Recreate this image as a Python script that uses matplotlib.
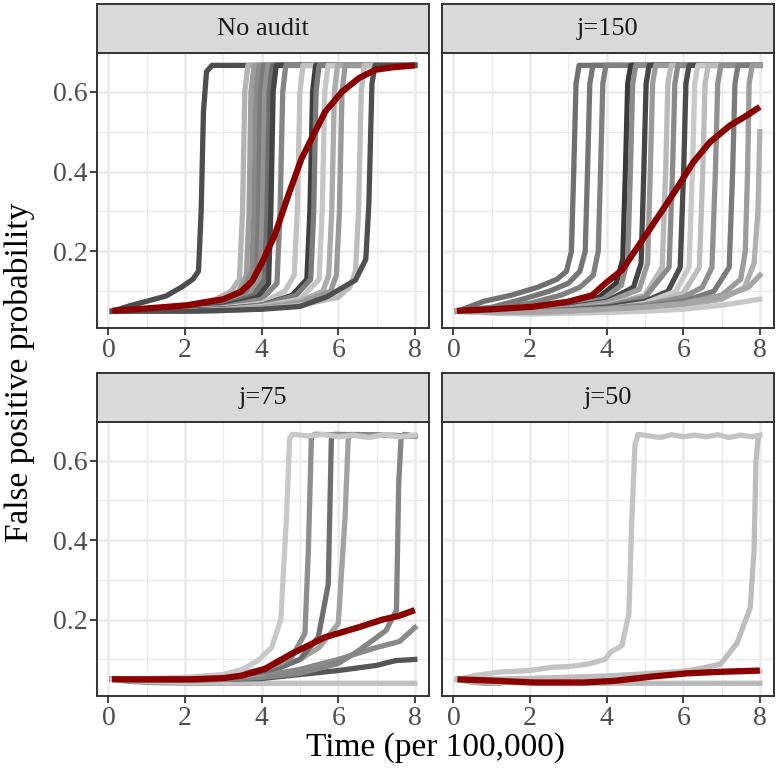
import numpy as np
import matplotlib
matplotlib.use("Agg")
from matplotlib import pyplot as plt

# facet titles
panels = ['No audit', 'j=150', 'j=75', 'j=50']

# ---- No audit: individual runs (x, y) ----
no_audit_runs = [
    ([0.1, 0.6, 1.0, 1.5, 1.9, 2.2, 2.35, 2.42, 2.48, 2.56, 2.7, 8.0],
     [0.05, 0.065, 0.075, 0.088, 0.11, 0.13, 0.15, 0.3, 0.55, 0.65, 0.666, 0.666]),
    ([0.1, 1.0, 2.0, 2.8, 3.2, 3.42, 3.5, 3.56, 3.64, 8.0],
     [0.05, 0.055, 0.065, 0.08, 0.1, 0.13, 0.3, 0.6, 0.666, 0.666]),
    ([0.1, 1.0, 2.0, 3.0, 3.4, 3.6, 3.67, 3.72, 3.8, 8.0],
     [0.05, 0.052, 0.06, 0.075, 0.1, 0.14, 0.3, 0.6, 0.666, 0.666]),
    ([0.1, 1.0, 2.0, 3.0, 3.5, 3.74, 3.8, 3.85, 3.93, 8.0],
     [0.05, 0.053, 0.06, 0.08, 0.1, 0.15, 0.3, 0.6, 0.666, 0.666]),
    ([0.1, 1.0, 2.0, 3.0, 3.6, 3.86, 3.92, 3.97, 4.05, 8.0],
     [0.05, 0.052, 0.058, 0.07, 0.1, 0.14, 0.3, 0.6, 0.666, 0.666]),
    ([0.1, 1.0, 2.0, 3.0, 3.7, 3.96, 4.02, 4.08, 4.16, 8.0],
     [0.05, 0.05, 0.055, 0.068, 0.09, 0.13, 0.3, 0.6, 0.666, 0.666]),
    ([0.1, 1.0, 2.0, 3.0, 3.8, 4.08, 4.14, 4.2, 4.28, 8.0],
     [0.05, 0.05, 0.055, 0.065, 0.09, 0.13, 0.3, 0.6, 0.666, 0.666]),
    ([0.1, 1.0, 2.0, 3.0, 3.9, 4.18, 4.24, 4.3, 4.38, 8.0],
     [0.05, 0.05, 0.055, 0.062, 0.085, 0.12, 0.3, 0.6, 0.666, 0.666]),
    ([0.1, 1.0, 2.0, 3.0, 4.0, 4.4, 4.48, 4.55, 4.63, 8.0],
     [0.05, 0.05, 0.053, 0.06, 0.08, 0.12, 0.3, 0.6, 0.666, 0.666]),
    ([0.1, 1.0, 2.0, 3.0, 4.0, 4.6, 4.85, 4.93, 5.0, 5.08, 8.0],
     [0.05, 0.05, 0.052, 0.058, 0.07, 0.1, 0.14, 0.3, 0.6, 0.666, 0.666]),
    ([0.1, 1.0, 2.0, 3.0, 4.0, 4.8, 5.18, 5.26, 5.33, 5.41, 8.0],
     [0.05, 0.05, 0.052, 0.056, 0.065, 0.09, 0.13, 0.3, 0.6, 0.666, 0.666]),
    ([0.1, 1.0, 2.0, 3.0, 4.0, 4.9, 5.28, 5.36, 5.42, 5.5, 8.0],
     [0.05, 0.05, 0.05, 0.055, 0.065, 0.09, 0.13, 0.3, 0.6, 0.666, 0.666]),
    ([0.1, 1.0, 2.0, 3.0, 4.0, 5.0, 5.5, 5.58, 5.65, 5.73, 8.0],
     [0.05, 0.05, 0.05, 0.054, 0.062, 0.08, 0.13, 0.3, 0.6, 0.666, 0.666]),
    ([0.1, 1.0, 2.0, 3.0, 4.0, 5.0, 5.6, 5.75, 5.83, 5.9, 5.98, 8.0],
     [0.05, 0.05, 0.05, 0.053, 0.06, 0.075, 0.1, 0.14, 0.3, 0.6, 0.666, 0.666]),
    ([0.1, 1.0, 2.0, 3.0, 4.0, 5.0, 5.8, 5.95, 6.03, 6.1, 6.18, 8.0],
     [0.05, 0.05, 0.05, 0.052, 0.058, 0.07, 0.1, 0.14, 0.3, 0.6, 0.666, 0.666]),
    ([0.1, 1.0, 2.0, 3.0, 4.0, 5.0, 6.0, 6.3, 6.45, 6.53, 6.6, 6.68, 8.0],
     [0.05, 0.05, 0.05, 0.052, 0.056, 0.065, 0.085, 0.11, 0.15, 0.3, 0.6, 0.666, 0.666]),
    ([0.1, 1.0, 2.0, 3.0, 4.0, 5.0, 5.7, 6.45, 6.72, 6.8, 6.88, 6.96, 8.0],
     [0.05, 0.05, 0.05, 0.052, 0.055, 0.062, 0.086, 0.128, 0.18, 0.32, 0.62, 0.666, 0.666]),
]
no_audit_greys = ['#4d4d4d', '#b3b3b3', '#9e9e9e', '#8a8a8a', '#7a7a7a', '#939393',
                  '#6e6e6e', '#444444', '#858585', '#c2c2c2', '#3e3e3e', '#7c7c7c',
                  '#c6c6c6', '#ababab', '#999999', '#bdbdbd', '#4f4f4f']
no_audit_mean_x = [0.1, 1.0, 2.06, 3.0, 3.46, 3.75, 4.0, 4.34, 4.69, 5.04, 5.39, 5.66,
                   6.1, 6.54, 6.97, 7.41, 8.0]
no_audit_mean_y = [0.051, 0.057, 0.065, 0.08, 0.099, 0.125, 0.17, 0.24, 0.339, 0.432, 0.499, 0.55,
                   0.6, 0.634, 0.655, 0.661, 0.666]

# ---- j=150 ----
j150_runs = [
    ([0.1, 0.8, 1.5, 2.2, 2.7, 2.95, 3.08, 3.14, 3.2, 3.28, 8.0],
     [0.05, 0.075, 0.09, 0.11, 0.13, 0.15, 0.2, 0.4, 0.62, 0.666, 0.666]),
    ([0.1, 1.0, 1.8, 2.5, 3.0, 3.3, 3.44, 3.5, 3.56, 3.64, 8.0],
     [0.05, 0.06, 0.08, 0.1, 0.12, 0.15, 0.2, 0.4, 0.62, 0.666, 0.666]),
    ([0.1, 1.0, 2.0, 2.8, 3.3, 3.65, 3.78, 3.84, 3.9, 3.98, 8.0],
     [0.05, 0.058, 0.07, 0.09, 0.11, 0.14, 0.2, 0.4, 0.62, 0.666, 0.666]),
    ([0.1, 1.0, 2.0, 3.0, 3.8, 4.25, 4.42, 4.49, 4.55, 4.63, 8.0],
     [0.05, 0.05, 0.055, 0.065, 0.085, 0.12, 0.18, 0.4, 0.62, 0.666, 0.666]),
    ([0.1, 1.0, 2.0, 3.0, 3.9, 4.38, 4.55, 4.62, 4.68, 4.76, 8.0],
     [0.05, 0.05, 0.055, 0.062, 0.08, 0.115, 0.18, 0.4, 0.62, 0.666, 0.666]),
    ([0.1, 1.0, 2.0, 3.0, 4.0, 4.7, 4.9, 4.97, 5.03, 5.11, 8.0],
     [0.05, 0.05, 0.052, 0.06, 0.075, 0.11, 0.17, 0.4, 0.62, 0.666, 0.666]),
    ([0.1, 1.0, 2.0, 3.0, 4.0, 4.85, 5.07, 5.14, 5.2, 5.28, 8.0],
     [0.05, 0.05, 0.052, 0.058, 0.072, 0.105, 0.17, 0.4, 0.62, 0.666, 0.666]),
    ([0.1, 1.0, 2.0, 3.0, 4.0, 5.0, 5.45, 5.54, 5.6, 5.68, 8.0],
     [0.05, 0.048, 0.05, 0.055, 0.065, 0.09, 0.16, 0.4, 0.62, 0.666, 0.666]),
    ([0.1, 1.0, 2.0, 3.0, 4.0, 5.0, 5.63, 5.72, 5.78, 5.86, 8.0],
     [0.05, 0.05, 0.05, 0.055, 0.063, 0.085, 0.16, 0.4, 0.62, 0.666, 0.666]),
    ([0.1, 1.0, 2.0, 3.0, 4.0, 5.0, 5.6, 5.92, 6.01, 6.07, 6.15, 8.0],
     [0.05, 0.05, 0.05, 0.053, 0.06, 0.075, 0.1, 0.16, 0.4, 0.62, 0.666, 0.666]),
    ([0.1, 1.0, 2.0, 3.0, 4.0, 5.0, 5.8, 6.15, 6.24, 6.3, 6.38, 8.0],
     [0.05, 0.047, 0.047, 0.05, 0.055, 0.07, 0.1, 0.16, 0.4, 0.62, 0.666, 0.666]),
    ([0.1, 1.0, 2.0, 3.0, 4.0, 5.0, 6.0, 6.42, 6.51, 6.57, 6.65, 8.0],
     [0.05, 0.047, 0.047, 0.05, 0.055, 0.065, 0.095, 0.16, 0.4, 0.62, 0.666, 0.666]),
    ([0.1, 1.0, 2.0, 3.0, 4.0, 5.0, 6.0, 6.5, 6.75, 6.84, 6.9, 6.98, 8.0],
     [0.05, 0.05, 0.05, 0.052, 0.057, 0.066, 0.085, 0.11, 0.16, 0.4, 0.62, 0.666, 0.666]),
    ([0.1, 1.0, 2.0, 3.0, 4.0, 5.0, 6.0, 6.8, 7.2, 7.29, 7.35, 7.43, 8.0],
     [0.05, 0.05, 0.05, 0.05, 0.055, 0.062, 0.075, 0.1, 0.16, 0.4, 0.62, 0.666, 0.666]),
    ([0.1, 1.0, 2.0, 3.0, 4.0, 5.0, 6.0, 7.0, 7.5, 7.62, 7.68, 7.72, 7.8, 8.0],
     [0.05, 0.048, 0.048, 0.05, 0.053, 0.06, 0.07, 0.09, 0.13, 0.2, 0.4, 0.62, 0.666, 0.666]),
    ([0.1, 1.0, 2.0, 3.0, 4.0, 5.0, 6.0, 7.0, 7.6, 7.85, 7.95, 8.0],
     [0.05, 0.047, 0.046, 0.048, 0.05, 0.055, 0.065, 0.08, 0.11, 0.17, 0.3, 0.5]),
    ([0.1, 1.0, 2.0, 3.0, 4.0, 5.0, 6.0, 7.0, 8.0],
     [0.05, 0.045, 0.043, 0.045, 0.047, 0.05, 0.055, 0.065, 0.08]),
    ([0.1, 1.0, 2.0, 3.0, 4.0, 5.0, 6.0, 7.0, 7.7, 8.0],
     [0.05, 0.048, 0.047, 0.05, 0.055, 0.06, 0.068, 0.085, 0.11, 0.14]),
]
j150_greys = ['#707070', '#757575', '#7f7f7f', '#3a3a3a', '#8c8c8c', '#464646',
              '#9b9b9b', '#b9b9b9', '#8a8a8a', '#4b4b4b', '#c9c9c9', '#bcbcbc',
              '#909090', '#7b7b7b', '#9c9c9c', '#b0b0b0', '#c8c8c8', '#a5a5a5']
j150_mean_x = [0.09, 1.0, 2.04, 3.0, 3.62, 3.97, 4.41, 4.76, 5.12, 5.47, 5.82, 6.26, 6.7, 7.23, 7.67, 8.0]
j150_mean_y = [0.051, 0.055, 0.061, 0.074, 0.09, 0.12, 0.154, 0.204, 0.255, 0.305, 0.356, 0.423, 0.474, 0.516, 0.541, 0.562]

# ---- j=75 ----
j75_runs = [
    ([0.1, 0.5, 1.0, 2.0, 3.0, 4.0],
     [0.05, 0.045, 0.042, 0.04, 0.04, 0.04]),
    ([0.1, 1.0, 2.0, 3.0, 4.0, 5.0, 6.0, 7.0, 8.0],
     [0.05, 0.045, 0.042, 0.041, 0.04, 0.04, 0.04, 0.04, 0.04]),
    ([0.1, 1.0, 2.0, 3.0, 4.0, 5.0, 6.0, 7.0, 7.5, 8.0],
     [0.05, 0.048, 0.048, 0.05, 0.052, 0.062, 0.072, 0.085, 0.097, 0.1]),
    ([0.1, 1.0, 2.0, 3.0, 4.0, 5.0, 6.0, 7.0, 7.6, 8.0],
     [0.05, 0.05, 0.05, 0.05, 0.058, 0.075, 0.1, 0.13, 0.145, 0.18]),
    ([0.1, 1.0, 2.0, 3.0, 4.0, 5.0, 6.0, 6.5, 7.0, 7.25, 7.52, 7.58, 7.64, 7.72, 8.0],
     [0.05, 0.048, 0.048, 0.05, 0.055, 0.065, 0.09, 0.12, 0.155, 0.173, 0.224, 0.545, 0.655, 0.666, 0.662]),
    ([0.1, 1.0, 2.0, 3.0, 4.0, 5.0, 5.5, 6.0, 6.18, 6.26, 6.34, 8.0],
     [0.05, 0.05, 0.05, 0.052, 0.065, 0.1, 0.13, 0.19, 0.46, 0.655, 0.666, 0.662]),
    ([0.1, 1.0, 2.0, 3.0, 4.0, 4.5, 5.0, 5.48, 5.74, 5.82, 5.9, 8.0],
     [0.05, 0.05, 0.05, 0.053, 0.068, 0.08, 0.1, 0.156, 0.29, 0.655, 0.666, 0.662]),
    ([0.1, 1.0, 2.0, 3.0, 4.0, 4.5, 4.78, 5.13, 5.22, 5.3, 5.38, 8.0],
     [0.05, 0.05, 0.05, 0.055, 0.075, 0.09, 0.105, 0.165, 0.376, 0.66, 0.666, 0.662]),
    ([0.1, 1.0, 2.0, 3.0, 3.5, 3.9, 4.26, 4.5, 4.65, 4.73, 4.8, 5.2, 5.6, 6.0, 6.4, 6.8, 7.2, 7.6, 8.0],
     [0.05, 0.052, 0.055, 0.062, 0.075, 0.097, 0.13, 0.2, 0.46, 0.655, 0.666, 0.662, 0.666, 0.66, 0.664, 0.658, 0.665, 0.66, 0.664]),
]
j75_greys = ['#9a9a9a', '#c0c0c0', '#555555', '#8a8a8a', '#858585', '#a2a2a2',
             '#6f6f6f', '#8e8e8e', '#c8c8c8']
j75_mean_x = [0.09, 1.0, 2.15, 3.0, 3.47, 4.08, 4.78, 5.66, 6.54, 7.15, 7.6, 8.0]
j75_mean_y = [0.05, 0.05, 0.05, 0.053, 0.059, 0.076, 0.114, 0.156, 0.181, 0.2, 0.21, 0.224]

# ---- j=50 ----
j50_runs = [
    ([0.1, 0.4, 0.8, 1.2],
     [0.05, 0.044, 0.04, 0.04]),
    ([0.1, 0.5, 1.0, 2.0, 3.0, 4.0, 5.0, 6.0, 7.0, 8.0],
     [0.05, 0.045, 0.042, 0.041, 0.04, 0.04, 0.04, 0.04, 0.04, 0.04]),
    ([0.1, 1.0, 2.0, 3.0, 4.0, 5.0, 6.0, 7.0, 8.0],
     [0.05, 0.05, 0.052, 0.055, 0.058, 0.062, 0.066, 0.068, 0.07]),
    ([0.1, 1.0, 2.0, 3.0, 4.0, 5.0, 6.0, 6.5, 6.97, 7.4, 7.75, 7.85, 7.9, 7.96],
     [0.05, 0.05, 0.052, 0.055, 0.058, 0.064, 0.07, 0.078, 0.088, 0.14, 0.23, 0.376, 0.6, 0.66]),
    ([0.1, 0.6, 1.2, 2.0, 2.55, 3.0, 3.5, 3.96, 4.1, 4.4, 4.58, 4.66, 4.74, 4.82, 5.1, 5.4,
      5.7, 6.0, 6.3, 6.6, 6.9, 7.2, 7.5, 7.8, 8.0],
     [0.05, 0.06, 0.068, 0.072, 0.08, 0.082, 0.088, 0.1, 0.118, 0.135, 0.215, 0.46, 0.64, 0.666,
      0.662, 0.658, 0.665, 0.66, 0.664, 0.66, 0.665, 0.658, 0.664, 0.66, 0.664]),
]
j50_greys = ['#9a9a9a', '#b8b8b8', '#c6c6c6', '#bdbdbd', '#c4c4c4']
j50_mean_x = [0.1, 1.2, 2.1, 3.4, 4.2, 5.2, 6.1, 7.0, 8.0]
j50_mean_y = [0.05, 0.046, 0.042, 0.042, 0.046, 0.057, 0.065, 0.069, 0.072]

x_ticks = [0, 2, 4, 6, 8]
y_ticks = [0.2, 0.4, 0.6]

plt.rcParams['font.family'] = ['Liberation Serif', 'DejaVu Serif']

fig = plt.figure(figsize=(7.77, 7.76), dpi=100)
W, H = 777.0, 776.0

# panel boxes in pixels: (left, top, right, bottom)
boxes = [(97, 53, 429, 328), (442, 53, 774, 328),
         (97, 422, 429, 696), (442, 422, 774, 696)]
strip_h = 49

facet_data = [
    (no_audit_runs, no_audit_greys, no_audit_mean_x, no_audit_mean_y),
    (j150_runs, j150_greys, j150_mean_x, j150_mean_y),
    (j75_runs, j75_greys, j75_mean_x, j75_mean_y),
    (j50_runs, j50_greys, j50_mean_x, j50_mean_y),
]

for i, (title, (runs, greys, mx, my), box) in enumerate(zip(panels, facet_data, boxes)):
    l, t, r, b = box
    ax = fig.add_axes([l / W, 1 - b / H, (r - l) / W, (b - t) / H])
    for (xs, ys), c in zip(runs, greys):
        ax.plot(xs, ys, color=c, lw=3.8, solid_joinstyle='round')
    ax.plot(mx, my, color='#8b0000', lw=4.5, solid_joinstyle='round', solid_capstyle='butt')

    ax.set_xlim(-0.3, 8.37)
    ax.set_ylim(0.008, 0.697)
    ax.set_xticks(x_ticks)
    ax.set_xticks([1, 3, 5, 7], minor=True)
    ax.set_yticks(y_ticks)
    ax.set_yticks([0.1, 0.3, 0.5], minor=True)
    ax.grid(which='major', color='#ebebeb', lw=1.8)
    ax.grid(which='minor', color='#ebebeb', lw=0.9)
    ax.set_axisbelow(True)
    ax.tick_params(which='major', length=5, width=1.3, color='#333333',
                   labelcolor='#4d4d4d', labelsize=20, pad=2)
    ax.tick_params(which='minor', length=0)
    if i % 2 == 1:
        ax.tick_params(axis='y', which='major', length=0, labelleft=False)
    for s in ax.spines.values():
        s.set_color('#333333')
        s.set_linewidth(1.4)

    # facet strip
    sax = fig.add_axes([l / W, 1 - t / H, (r - l) / W, strip_h / H])
    sax.set_facecolor('#d9d9d9')
    sax.set_xticks([])
    sax.set_yticks([])
    for s in sax.spines.values():
        s.set_color('#333333')
        s.set_linewidth(1.4)
    sax.text(0.5, 0.48, title, ha='center', va='center', fontsize=19, color='#1a1a1a',
             transform=sax.transAxes)

fig.text(435 / W, 1 - 748 / H, 'Time (per 100,000)', ha='center', va='center', fontsize=24)
fig.text(20 / W, 1 - 372 / H, 'False positive probability', ha='center', va='center',
         rotation=90, fontsize=24)

fig.savefig('out.png', dpi=100)
